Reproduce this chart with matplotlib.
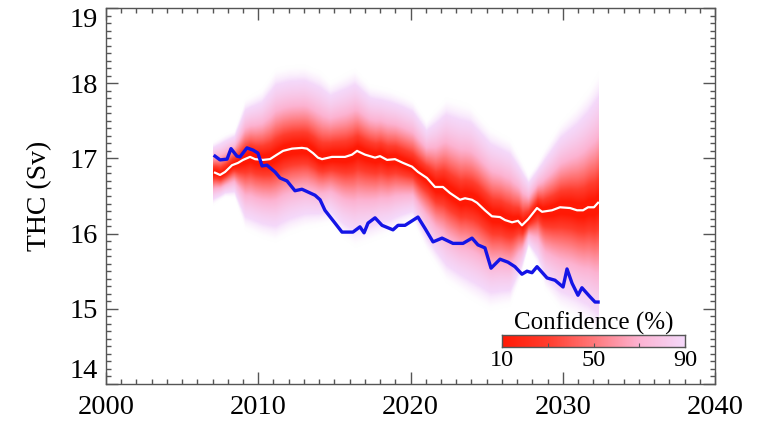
import math
import numpy as np
import matplotlib
matplotlib.use("Agg")
import matplotlib.pyplot as plt
from matplotlib.colors import LinearSegmentedColormap, Normalize
from matplotlib.ticker import MultipleLocator

plt.rcParams['font.family'] = ['Liberation Serif', 'DejaVu Serif']

# ensemble median (white line)
median_years = [2007.16, 2007.49, 2007.82, 2008.28, 2008.67, 2009.00, 2009.46,
                2009.79, 2010.31, 2010.77, 2011.23, 2011.63, 2012.22, 2012.87,
                2013.20, 2013.60, 2013.92, 2014.19, 2014.84, 2015.70, 2016.16,
                2016.49, 2017.01, 2017.67, 2018.00, 2018.46, 2018.98, 2019.51,
                2020.10, 2020.49, 2021.08, 2021.61, 2022.13, 2022.59, 2023.25,
                2023.58, 2024.04, 2024.37, 2024.89, 2025.35, 2025.88, 2026.21,
                2026.67, 2027.06, 2027.32, 2027.72, 2028.31, 2028.64, 2029.29,
                2029.82, 2030.48, 2030.94, 2031.33, 2031.66, 2032.05, 2032.32]
median_vals = [16.81, 16.78, 16.82, 16.91, 16.94, 16.98, 17.02,
               16.99, 16.98, 16.99, 17.05, 17.10, 17.13, 17.14,
               17.13, 17.07, 17.01, 16.99, 17.02, 17.02, 17.05,
               17.10, 17.05, 17.01, 17.03, 16.98, 16.99, 16.94,
               16.89, 16.82, 16.74, 16.62, 16.62, 16.54, 16.45,
               16.47, 16.45, 16.41, 16.31, 16.23, 16.22, 16.18,
               16.15, 16.17, 16.11, 16.19, 16.34, 16.29, 16.31,
               16.35, 16.34, 16.31, 16.31, 16.35, 16.35, 16.41]

# observed / reference run (blue line)
obs_years = [2007.16, 2007.49, 2007.95, 2008.21, 2008.60, 2008.80, 2009.26,
             2009.66, 2009.98, 2010.25, 2010.57, 2011.10, 2011.43, 2011.89,
             2012.41, 2012.87, 2013.73, 2014.06, 2014.38, 2015.04, 2015.50,
             2016.22, 2016.68, 2016.95, 2017.21, 2017.67, 2018.13, 2018.85,
             2019.18, 2019.64, 2020.49, 2020.95, 2021.48, 2022.07, 2022.79,
             2023.45, 2024.04, 2024.43, 2024.89, 2025.29, 2025.88, 2026.40,
             2026.86, 2027.32, 2027.65, 2027.98, 2028.31, 2028.97, 2029.49,
             2030.02, 2030.28, 2030.61, 2031.00, 2031.26, 2031.79, 2032.12,
             2032.32]
obs_vals = [17.03, 16.98, 16.99, 17.13, 17.03, 17.02, 17.14,
            17.11, 17.07, 16.90, 16.91, 16.82, 16.74, 16.70,
            16.57, 16.59, 16.51, 16.45, 16.31, 16.14, 16.02,
            16.02, 16.09, 16.01, 16.14, 16.21, 16.11, 16.05,
            16.11, 16.11, 16.22, 16.07, 15.89, 15.94, 15.87,
            15.87, 15.94, 15.85, 15.81, 15.54, 15.66, 15.62,
            15.56, 15.46, 15.50, 15.48, 15.56, 15.41, 15.38,
            15.29, 15.53, 15.34, 15.18, 15.28, 15.16, 15.09,
            15.09]

# outer edges of the ensemble spread
fan_years = [2007.0, 2007.8, 2008.4, 2009.1, 2010.2, 2011.1, 2012.0, 2013.0,
             2014.0, 2014.7, 2015.5, 2016.3, 2017.3, 2018.6, 2019.5, 2020.1,
             2021.0, 2022.3, 2023.9, 2025.2, 2026.5, 2027.2, 2027.7, 2028.3,
             2028.8, 2029.8, 2030.8, 2031.6, 2032.3]
fan_upper = [17.20, 17.30, 17.35, 17.75, 17.87, 18.13, 18.17, 18.18,
             18.10, 17.97, 18.05, 18.13, 17.93, 17.87, 17.80, 17.74,
             17.47, 17.74, 17.64, 17.34, 17.20, 16.95, 16.75, 16.92,
             17.10, 17.42, 17.62, 17.82, 18.05]
fan_lower = [16.40, 16.50, 16.50, 16.10, 16.00, 15.95, 16.05, 16.12,
             16.15, 16.18, 16.00, 15.89, 15.95, 16.05, 16.15, 16.20,
             15.82, 15.42, 15.20, 15.05, 15.10, 15.45, 15.82, 15.60,
             15.30, 15.05, 14.95, 14.85, 14.70]

cb_ticks = [10, 30, 50, 70, 90]
cb_labels = ['10', '', '50', '', '90']

# colour by confidence level, fading out just past 90 %
conf_cmap = LinearSegmentedColormap.from_list('conf', [
    (0.00, (1.00, 0.10, 0.02, 1.0)),
    (0.10, (1.00, 0.10, 0.02, 1.0)),
    (0.30, (1.00, 0.24, 0.18, 1.0)),
    (0.50, (1.00, 0.47, 0.48, 1.0)),
    (0.70, (0.99, 0.70, 0.82, 1.0)),
    (0.90, (0.96, 0.85, 0.98, 1.0)),
    (0.94, (0.98, 0.92, 0.99, 0.4)),
    (0.96, (1.00, 1.00, 1.00, 0.0)),
    (1.00, (1.00, 1.00, 1.00, 0.0)),
])
conf_norm = Normalize(0, 100)

fig = plt.figure(figsize=(7.58, 4.22), dpi=100)
ax = fig.add_axes([106 / 758, 38 / 422, 609 / 758, 376 / 422])

# build the confidence field
t_grid = np.linspace(fan_years[0], fan_years[-1], 800)
y_grid = np.linspace(14, 19, 700)
med = np.interp(t_grid, median_years, median_vals)
up = np.interp(t_grid, fan_years, fan_upper)
lo = np.interp(t_grid, fan_years, fan_lower)
T, Y = np.meshgrid(t_grid, y_grid)
M = np.broadcast_to(med, T.shape)
s_up = np.broadcast_to((up - med) / 1.9, T.shape)
s_lo = np.broadcast_to((med - lo) / 1.9, T.shape)
z = np.where(Y > M, (Y - M) / s_up, (M - Y) / s_lo)
conf = np.vectorize(math.erf)(z / math.sqrt(2)) * 100

ax.imshow(conf, cmap=conf_cmap, norm=conf_norm, origin='lower',
          extent=[t_grid[0], t_grid[-1], 14, 19], aspect='auto',
          interpolation='bilinear', zorder=1)

ax.plot(median_years, median_vals, color='white', lw=1.6, zorder=3)
ax.plot(obs_years, obs_vals, color='#1414e6', lw=2.4, zorder=4)

ax.set_xlim(2000, 2040)
ax.set_ylim(14, 19)
ax.set_xticks(range(2000, 2041, 10))
ax.set_yticks(range(14, 20))
ax.xaxis.set_minor_locator(MultipleLocator(1))
ax.yaxis.set_minor_locator(MultipleLocator(0.1))
frame = '#555555'
for sp in ax.spines.values():
    sp.set_color(frame)
    sp.set_linewidth(1.0)
ax.tick_params(which='both', direction='in', top=True, right=True,
               color=frame, width=1.0, labelsize=20.5)
ax.tick_params(which='major', length=8.5)
ax.tick_params(which='minor', length=3.5)
ax.tick_params(axis='x', pad=8)
ax.tick_params(axis='y', pad=6)
ylabs = ax.get_yticklabels()
ylabs[0].set_va('bottom')
ylabs[-1].set_va('top')
ax.set_ylabel('THC (Sv)', fontsize=20)
ax.yaxis.set_label_coords(-0.088, 0.5)

# confidence colour bar
cax = fig.add_axes([502 / 758, 75 / 422, 183 / 758, 12 / 422])
grad = np.linspace(10, 90, 256)[None, :]
cax.imshow(grad, cmap=conf_cmap, norm=conf_norm, extent=[10, 90, 0, 1],
           aspect='auto')
cax.set_xlim(10, 90)
cax.set_yticks([])
cax.set_xticks(cb_ticks)
cax.set_xticklabels(cb_labels)
cax.tick_params(axis='x', direction='in', length=3, color=frame,
                labelsize=17.5, pad=2)
for sp in cax.spines.values():
    sp.set_color(frame)
    sp.set_linewidth(1.0)
cax.set_title('Confidence (%)', fontsize=18, pad=2)

fig.savefig('out.png', dpi=100)
